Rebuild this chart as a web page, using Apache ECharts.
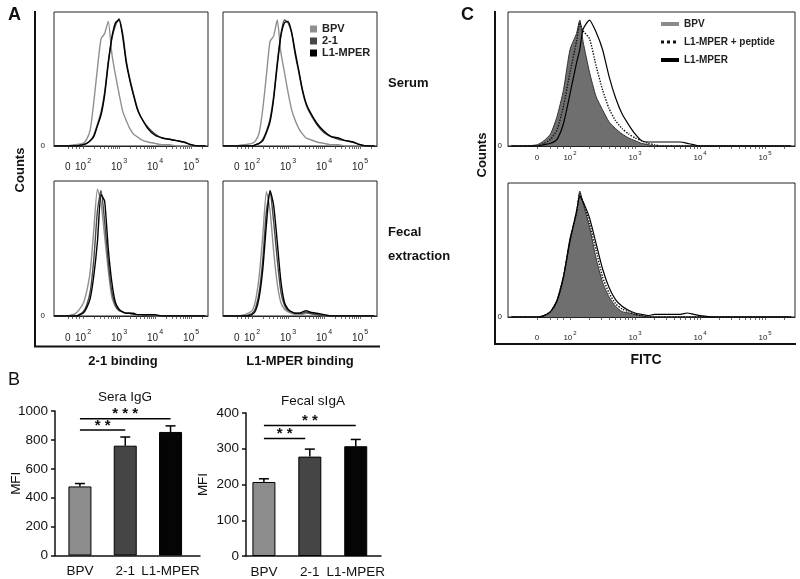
<!DOCTYPE html>
<html><head><meta charset="utf-8">
<script src="https://cdn.jsdelivr.net/npm/echarts@6/dist/echarts.min.js"></script>
<style>html,body{margin:0;padding:0;background:#fff}#c{width:800px;height:579px}</style>
</head><body><div id="c"></div>
<script>
const FONT = '"Liberation Sans", Arial, Helvetica, sans-serif';

// ---- Panel A: flow histograms (x = display decade: 2 -> 10^2, 3 -> 10^3 ...; y = % of max)
const A_X = [1.2,1.5,1.8,2.0,2.1,2.2,2.3,2.4,2.5,2.6,2.7,2.8,2.9,3.0,3.1,3.2,3.3,3.4,3.5,3.6,3.8,4.0,4.2,4.4,4.6,4.8,5.0,5.2,5.4];
const A_SERUM21_BPV = [0,0,1,2,5,12,33,58,80,84,93,69,53,39,26,19,13,9,7,5,3,2,1,1,0,0,0,0,0];
const A_SERUM21_21  = [0,0,0,1,2,4,8,16,25,40,63,80,90,95,84,64,50,39,29,22,14,9,6,5,4,3,1,0,0];
const A_SERUM21_L1  = [0,0,0,1,2,4,7,15,23,38,61,81,92,94,82,62,49,38,28,22,13,8,6,5,4,3,1,0,0];
const A_SERUML1_BPV = [0,0,1,2,4,10,28,53,78,82,94,70,55,40,27,19,13,9,6,5,3,2,1,1,0,0,0,0,0];
const A_SERUML1_21  = [0,0,0,0,1,2,5,11,20,37,62,83,94,92,84,68,55,41,31,25,16,10,7,5,4,3,1,0,0];
const A_SERUML1_L1  = [0,0,0,0,1,2,4,10,18,35,60,82,92,93,85,70,56,42,32,26,17,11,7,6,4,3,1,0,0];
const A_FECAL21_BPV = [0,0,2,9,18,33,64,94,84,59,34,14,7,4,3,2,2,1,1,1,1,0,0,0,0,0,0,0,0];
const A_FECAL21_21  = [0,0,0,3,8,18,42,78,93,70,40,18,8,4,3,2,2,1,1,1,0,0,0,0,0,0,0,0,0];
const A_FECAL21_L1  = [0,0,0,2,6,13,30,55,90,85,50,25,10,5,3,2,2,2,1,1,1,1,0,0,0,0,0,0,0];
const A_FECALL1_BPV = [0,0,1,4,12,30,60,92,78,48,24,10,5,3,2,1,1,1,2,2,1,0,0,0,0,0,0,0,0];
const A_FECALL1_21  = [0,0,0,2,6,18,42,78,92,70,42,18,8,4,3,2,2,2,3,2,1,0,0,0,0,0,0,0,0];
const A_FECALL1_L1  = [0,0,0,1,4,14,35,68,93,82,55,26,10,5,3,2,2,3,4,3,2,1,0,0,0,0,0,0,0];
const A_SERIES_NAMES = ['BPV','2-1','L1-MPER'];
const A_TICK_LABELS = [1.58,2,3,4,5];

// ---- Panel C: FITC histograms
const C_X = [1.1,1.3,1.5,1.6,1.7,1.8,1.9,2.0,2.1,2.15,2.2,2.3,2.4,2.5,2.6,2.7,2.8,2.9,3.0,3.1,3.2,3.3,3.4,3.5,3.6,3.7,3.8,3.9,4.0,4.2,4.6,5.0,5.4];
const C_SERUM_BPV = [0,0,1,4,9,22,42,72,84,94,78,55,37,27,18,13,9,6,4,2,1,0,0,0,0,0,0,0,0,0,0,0,0];
const C_SERUM_PEP = [0,0,0,2,5,12,30,55,78,92,86,80,60,42,28,19,13,9,6,4,2,1,0,0,0,0,0,0,0,0,0,0,0];
const C_SERUM_L1  = [0,0,0,1,2,5,17,39,62,72,87,94,85,72,52,36,24,16,9,4,3,3,3,3,3,3,2,1,0,0,0,0,0];
const C_FECAL_BPV = [0,0,0,1,4,13,31,59,77,94,85,67,44,26,15,8,4,3,2,1,0,0,0,0,0,0,0,0,0,0,0,0,0];
const C_FECAL_PEP = [0,0,0,1,4,12,30,57,78,92,86,70,50,30,18,10,6,4,2,1,0,0,0,0,0,0,0,0,0,0,0,0,0];
const C_FECAL_L1  = [0,0,0,1,4,12,30,57,79,90,86,74,55,36,22,13,8,5,3,2,1,2,2,2,2,2,3,2,1,0,0,0,0];
const C_LEGEND_TEXT = ['BPV','L1-MPER + peptide','L1-MPER'];
const C_TICK_LABELS = [1.49,2,3,4,5];

// ---- Panel B: bar charts
const B_CATS = ['BPV','2-1','L1-MPER'];
const SERA_MEAN = [478,760,855];
const SERA_ERR  = [20,60,42];
const FECAL_MEAN = [207,278,307];
const FECAL_ERR  = [9,21,19];
const SERA_SIG = [[1,2,869],[1,3,947]];
const SERA_SIG_TEXT = ['* *','* * *'];
const FECAL_SIG = [[1,1.9,329],[1,3,365]];
const FECAL_SIG_TEXT = ['* *','* *'];

const A_COLORS = ['#8f8f8f','#474747','#000000'];
const B_COLORS = ['#8c8c8c','#454545','#050505'];

function minorTicks(zero, max){
  const t = [zero, 1.7, 1.8, 1.9];
  for (let n = 2; n <= 5; n++) for (let k = 1; k <= 9; k++) {
    const v = n + Math.log10(k); if (v <= max) t.push(v);
  }
  return t;
}

const grids = [
  {left:54, top:12, width:154, height:134},   // A serum 2-1
  {left:223, top:12, width:154, height:134},  // A serum L1
  {left:54, top:181, width:154, height:135},  // A fecal 2-1
  {left:223, top:181, width:154, height:135}, // A fecal L1
  {left:508, top:12, width:287, height:134},  // C serum
  {left:508, top:183, width:287, height:134}, // C fecal
  {left:55, top:411, width:145, height:144.5},// B sera
  {left:246, top:413, width:135, height:143.5}// B fecal
].map((g, i) => Object.assign({show: i < 6, borderColor:'#222', borderWidth:1, backgroundColor:'transparent'}, g));

function histX(gi, min, max, zero, fs, margin){
  return {type:'value', gridIndex:gi, min, max,
    axisLine:{show:true, lineStyle:{color:'#222', width:1}},
    axisTick:{show:true, customValues:minorTicks(zero, max), length:3, lineStyle:{color:'#444', width:0.8}},
    splitLine:{show:false},
    axisLabel:{customValues: gi<4 ? A_TICK_LABELS : C_TICK_LABELS, margin, color:'#222', fontFamily:FONT,
      formatter: v => v < 1.95 ? '{b|0}' : '{b|10}{s|' + Math.round(v) + '}',
      rich:{b:{fontSize:fs, fontFamily:FONT, color:'#222', lineHeight:fs+4, verticalAlign:'bottom'},
            s:{fontSize:Math.round(fs*0.7), fontFamily:FONT, color:'#222', lineHeight:fs+4, verticalAlign:'top', padding:[0,0,0,1]}}}
  };
}
function histY(gi, showZero, margin){
  return {type:'value', gridIndex:gi, min:0, max:100,
    axisLine:{show:false}, axisTick:{show:false}, splitLine:{show:false},
    axisLabel:{show:showZero, customValues:[0], formatter:()=> '0', fontSize:8, color:'#222', fontFamily:FONT, margin}};
}

const xAxis = [
  histX(0, 1.194, 5.47, 1.58, 10, 12),
  histX(1, 1.194, 5.47, 1.58, 10, 12),
  histX(2, 1.194, 5.47, 1.58, 10, 13),
  histX(3, 1.194, 5.47, 1.58, 10, 13),
  histX(4, 1.046, 5.46, 1.49, 8, 4),
  histX(5, 1.046, 5.46, 1.49, 8, 13),
];
const yAxis = [
  histY(0, true, 9), histY(1, false, 9), histY(2, true, 9), histY(3, false, 9),
  histY(4, true, 6), histY(5, true, 6)
];
function barX(gi, min, max){
  return {type:'value', gridIndex:gi, min, max,
    axisLine:{show:true, lineStyle:{color:'#111', width:1.5}}, axisTick:{show:false}, splitLine:{show:false},
    axisLabel:{customValues:[1,2,3], formatter: v => B_CATS[Math.round(v)-1], fontSize:13.5, color:'#111', fontFamily:FONT, margin:9}};
}
function barY(gi, max, interval, gap){
  return {type:'value', gridIndex:gi, min:0, max, interval,
    name:'MFI', nameLocation:'middle', nameGap:gap, nameMoveOverlap:false,
    nameTextStyle:{fontSize:13.5, color:'#111', fontFamily:FONT},
    axisLine:{show:true, lineStyle:{color:'#111', width:1.5}},
    axisTick:{show:true, length:4, lineStyle:{color:'#111', width:1.5}}, splitLine:{show:false},
    axisLabel:{fontSize:13.5, color:'#111', fontFamily:FONT, margin:7, formatter: v => String(v)}};
}
xAxis.push(barX(6, 0.45, 3.65), barX(7, 0.61, 3.55));
yAxis.push(barY(6, 1000, 200, 32), barY(7, 400, 100, 36));

const series = [];
function addHist(gi, xs, arrs){
  arrs.forEach((arr, k) => series.push({
    type:'line', name:A_SERIES_NAMES[k], xAxisIndex:gi, yAxisIndex:gi,
    data: xs.map((x,j)=>[x, arr[j]]), symbol:'none', smooth:0.2,
    lineStyle:{color:A_COLORS[k], width:1.4}, itemStyle:{color:A_COLORS[k]}, z:2+k, silent:true
  }));
}
addHist(0, A_X, [A_SERUM21_BPV, A_SERUM21_21, A_SERUM21_L1]);
addHist(1, A_X, [A_SERUML1_BPV, A_SERUML1_21, A_SERUML1_L1]);
addHist(2, A_X, [A_FECAL21_BPV, A_FECAL21_21, A_FECAL21_L1]);
addHist(3, A_X, [A_FECALL1_BPV, A_FECALL1_21, A_FECALL1_L1]);

const C_NAMES = ['C-BPV','C-L1-MPER-peptide','C-L1-MPER'];
function addC(gi, bpv, pep, l1){
  series.push({type:'line', name:C_NAMES[0], xAxisIndex:gi, yAxisIndex:gi, data:C_X.map((x,j)=>[x,bpv[j]]),
    symbol:'none', smooth:0.2, lineStyle:{color:'#333', width:1}, itemStyle:{color:'#777'},
    areaStyle:{color:'#6f6f6f', opacity:1}, z:2, silent:true});
  series.push({type:'line', name:C_NAMES[1], xAxisIndex:gi, yAxisIndex:gi, data:C_X.map((x,j)=>[x,pep[j]]),
    symbol:'none', smooth:0.2, lineStyle:{color:'#111', width:1.4, type:'dotted'}, itemStyle:{color:'#111'}, z:3, silent:true});
  series.push({type:'line', name:C_NAMES[2], xAxisIndex:gi, yAxisIndex:gi, data:C_X.map((x,j)=>[x,l1[j]]),
    symbol:'none', smooth:0.2, lineStyle:{color:'#000', width:1.2}, itemStyle:{color:'#000'}, z:4, silent:true});
}
addC(4, C_SERUM_BPV, C_SERUM_PEP, C_SERUM_L1);
addC(5, C_FECAL_BPV, C_FECAL_PEP, C_FECAL_L1);

function errItem(params, api){
  const x = api.value(0), y = api.value(1), e = api.value(2);
  const p0 = api.coord([x, y]), p1 = api.coord([x, y + e]);
  return {type:'group', children:[
    {type:'line', shape:{x1:p0[0], y1:p0[1], x2:p1[0], y2:p1[1]}, style:{stroke:'#000', lineWidth:1.5}},
    {type:'line', shape:{x1:p1[0]-5, y1:p1[1], x2:p1[0]+5, y2:p1[1]}, style:{stroke:'#000', lineWidth:1.5}}
  ]};
}
function sigRenderer(texts){
  return function(params, api){
    const a = api.coord([api.value(0), api.value(2)]), b = api.coord([api.value(1), api.value(2)]);
    return {type:'group', children:[
      {type:'line', shape:{x1:a[0], y1:a[1], x2:b[0], y2:a[1]}, style:{stroke:'#000', lineWidth:1.5}},
      {type:'text', x:(a[0]+b[0])/2, y:a[1]+3, style:{text:texts[params.dataIndex], align:'center', verticalAlign:'bottom',
        font:'bold 15px ' + FONT, fill:'#111'}}
    ]};
  };
}
function addBars(gi, means, errs, sig, sigText){
  series.push({type:'bar', name:'bars'+gi, xAxisIndex:gi, yAxisIndex:gi, barWidth:23,
    data: means.map((v,i)=>({value:[i+1, v], itemStyle:{color:B_COLORS[i], borderColor:'#000', borderWidth:1}})), z:2, silent:true});
  series.push({type:'custom', name:'err'+gi, xAxisIndex:gi, yAxisIndex:gi, renderItem:errItem,
    data: means.map((v,i)=>[i+1, v, errs[i]]), encode:{x:0, y:1}, z:3, silent:true});
  series.push({type:'custom', name:'sig'+gi, xAxisIndex:gi, yAxisIndex:gi, renderItem:sigRenderer(sigText),
    data: sig, encode:{x:[0,1], y:2}, z:3, silent:true});
}
addBars(6, SERA_MEAN, SERA_ERR, SERA_SIG, SERA_SIG_TEXT);
addBars(7, FECAL_MEAN, FECAL_ERR, FECAL_SIG, FECAL_SIG_TEXT);

function txt(x, y, text, font, align, rot){
  return {type:'text', x, y, rotation: rot || 0, style:{text, font, fill:'#111', align: align || 'left', verticalAlign:'middle'}};
}
const graphic = [
  {type:'line', shape:{x1:35, y1:11, x2:35, y2:346.5}, style:{stroke:'#111', lineWidth:2}},
  {type:'line', shape:{x1:34, y1:346.5, x2:380, y2:346.5}, style:{stroke:'#111', lineWidth:2}},
  {type:'line', shape:{x1:495, y1:11, x2:495, y2:344}, style:{stroke:'#111', lineWidth:2}},
  {type:'line', shape:{x1:494, y1:344, x2:796, y2:344}, style:{stroke:'#111', lineWidth:2}},
  txt(8, 15, 'A', 'bold 18px ' + FONT),
  txt(8, 380, 'B', '18px ' + FONT),
  txt(461, 15, 'C', 'bold 18px ' + FONT),
  txt(20, 170, 'Counts', 'bold 13px ' + FONT, 'center', Math.PI/2),
  txt(482, 155, 'Counts', 'bold 13px ' + FONT, 'center', Math.PI/2),
  txt(388, 83, 'Serum', 'bold 13px ' + FONT),
  txt(388, 232, 'Fecal', 'bold 13px ' + FONT),
  txt(388, 256, 'extraction', 'bold 13px ' + FONT),
  txt(123, 361, '2-1 binding', 'bold 13px ' + FONT, 'center'),
  txt(300, 361, 'L1-MPER binding', 'bold 13px ' + FONT, 'center'),
  txt(646, 360, 'FITC', 'bold 14px ' + FONT, 'center'),
  txt(125, 397, 'Sera IgG', '13.5px ' + FONT, 'center'),
  txt(313, 401, 'Fecal sIgA', '13.5px ' + FONT, 'center')
];

const option = {
  animation:false,
  backgroundColor:'#fff',
  grid: grids, xAxis, yAxis, series, graphic,
  legend:[
    {left:310, top:23, padding:0, orient:'vertical', icon:'rect', itemWidth:7, itemHeight:7, itemGap:0,
     selectedMode:false, data:A_SERIES_NAMES,
     textStyle:{fontSize:11, fontWeight:'bold', color:'#222', fontFamily:FONT, lineHeight:12}},
    {left:659, top:18, padding:0, orient:'vertical', itemWidth:18, itemHeight:10, itemGap:6, selectedMode:false,
     data:[{name:C_NAMES[0], itemStyle:{opacity:0}, lineStyle:{color:'#8a8a8a', width:4}},
           {name:C_NAMES[1], itemStyle:{opacity:0}, lineStyle:{color:'#111', width:3, type:'dotted'}},
           {name:C_NAMES[2], itemStyle:{opacity:0}, lineStyle:{color:'#000', width:4}}],
     formatter: n => C_LEGEND_TEXT[C_NAMES.indexOf(n)],
     textStyle:{fontSize:10, fontWeight:'bold', color:'#222', fontFamily:FONT, lineHeight:12}}
  ]
};
const chart = echarts.init(document.getElementById('c'), null, {renderer:'canvas'});
chart.setOption(option);
</script></body></html>
